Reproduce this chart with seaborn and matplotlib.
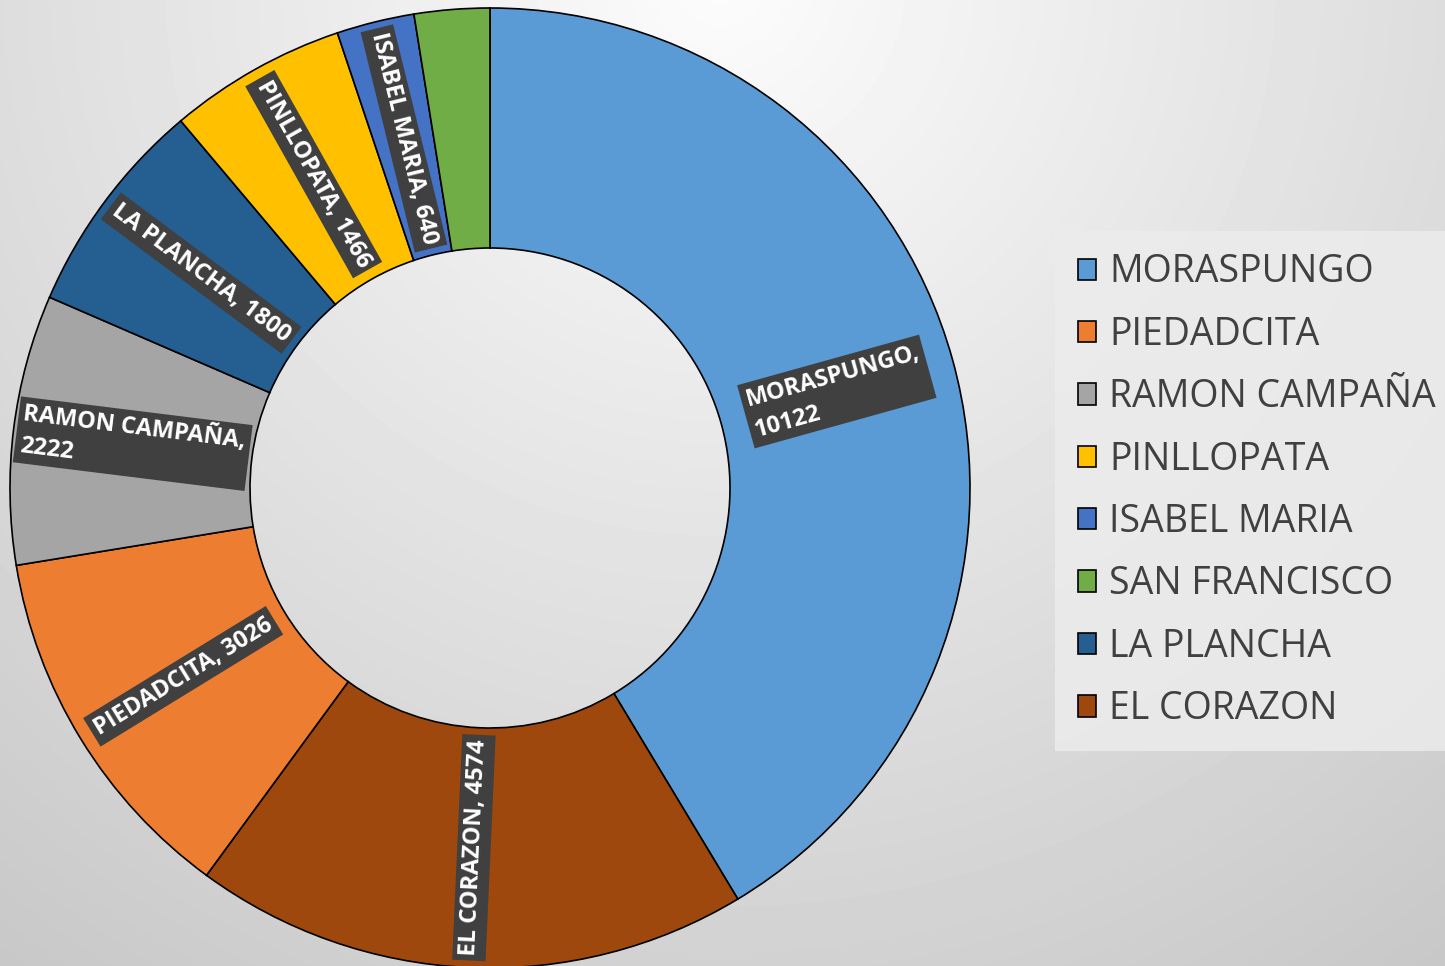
import numpy as np
import matplotlib.pyplot as plt
import seaborn as sns
from matplotlib.patches import Patch

# slices in drawing order (clockwise from 12 o'clock)
names = ['MORASPUNGO', 'EL CORAZON', 'PIEDADCITA', 'RAMON CAMPAÑA',
         'LA PLANCHA', 'PINLLOPATA', 'ISABEL MARIA', 'SAN FRANCISCO']
values = [10122, 4574, 3026, 2222, 1800, 1466, 640, 620]
colors = ['#5B9BD5', '#9E480E', '#ED7D31', '#A5A5A5',
          '#255E91', '#FFC000', '#4472C4', '#70AD47']
# labels that Excel wrapped onto two lines, and slices without label
wrapped = ['MORASPUNGO', 'RAMON CAMPAÑA']
no_label = ['SAN FRANCISCO']
# legend order as shown in the chart
legend_order = ['MORASPUNGO', 'PIEDADCITA', 'RAMON CAMPAÑA', 'PINLLOPATA',
                'ISABEL MARIA', 'SAN FRANCISCO', 'LA PLANCHA', 'EL CORAZON']

sns.set_theme(style='white')
plt.rcParams['font.family'] = ['Open Sans', 'DejaVu Sans']

W, H = 1445, 966
fig = plt.figure(figsize=(W / 100, H / 100), dpi=100)

# grey radial background, light near top centre
bg = fig.add_axes([0, 0, 1, 1], zorder=-10)
yy, xx = np.mgrid[0:H, 0:W]
d = np.hypot(xx - 720, yy + 20)
shade = np.clip(252 - d * 0.043, 195, 252) / 255
bg.imshow(shade, cmap='gray', vmin=0, vmax=1, aspect='auto', interpolation='bilinear')
bg.axis('off')

# donut
R = 480
cx, cy = 490, H - 488
ax = fig.add_axes([(cx - R) / W, (cy - R) / H, 2 * R / W, 2 * R / H])
ax.set_facecolor('none')
wedges, _ = ax.pie(values, colors=colors, startangle=90, counterclock=False, radius=1,
                   wedgeprops=dict(width=0.5, edgecolor='black', linewidth=1.2))
ax.set_xlim(-1, 1)
ax.set_ylim(-1, 1)
ax.set_aspect('equal')
ax.axis('off')

for w, name, val in zip(wedges, names, values):
    if name in no_label:
        continue
    mid = (w.theta1 + w.theta2) / 2
    x, y = 0.75 * np.cos(np.radians(mid)), 0.75 * np.sin(np.radians(mid))
    a = mid % 360
    rot = a if (a <= 90 or a >= 270) else a - 180
    sep = ',\n' if name in wrapped else ', '
    ax.text(x, y, f'{name}{sep}{val}', rotation=rot, rotation_mode='anchor',
            ha='center', va='center', multialignment='left',
            color='white', fontsize=17, fontweight='bold', linespacing=1.45,
            bbox=dict(boxstyle='square,pad=0.2', facecolor='#404040', edgecolor='none'))

handles = [Patch(facecolor=colors[names.index(n)], edgecolor='black', linewidth=1.2)
           for n in legend_order]
leg = fig.legend(handles, legend_order, loc='upper left',
                 bbox_to_anchor=(1055 / W, 1 - 231 / H),
                 fontsize=27, frameon=True, fancybox=False,
                 handlelength=0.5, handleheight=0.5, handletextpad=0.35,
                 labelspacing=0.65, borderpad=0.6, borderaxespad=0)
leg.get_frame().set_facecolor('#ececec')
leg.get_frame().set_edgecolor('none')
leg.get_frame().set_alpha(0.85)
for t in leg.get_texts():
    t.set_color('#404040')

plt.savefig('out.png', dpi=100)
